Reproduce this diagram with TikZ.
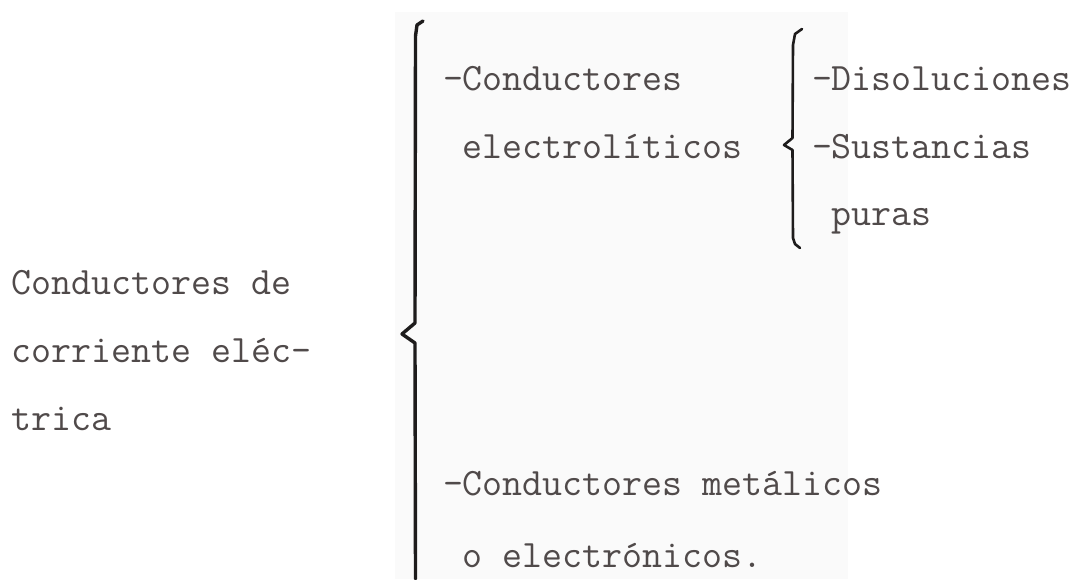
\documentclass[tikz,border=0pt]{standalone}
\usepackage{fontspec}
\definecolor{ink}{RGB}{80,74,74}
\definecolor{pen}{RGB}{30,28,28}
\definecolor{paper}{RGB}{250,250,250}
\begin{document}
\begin{tikzpicture}[x=1pt,y=-1pt,
  lbl/.style={anchor=base west,inner sep=0pt,outer sep=0pt,text=ink,font=\ttfamily\fontsize{38.8}{38.8}\selectfont},
  brace/.style={draw=pen,line width=3.4pt,line cap=round,line join=round}]
\useasboundingbox (0,0) rectangle (1080,579);
\fill[white] (0,0) rectangle (1080,579);
\fill[paper] (395,12) rectangle (848,579);
% left label
\node[lbl] (l1) at (12,294) {Conductores de};
\node[lbl] (l2) at (12,362) {corriente eléc-};
\node[lbl] (l3) at (12,430) {trica};
% middle
\node[lbl] (m1) at (443,90) {-Conductores};
\node[lbl] (m2) at (443,158) {\ electrolíticos};
\node[lbl] (m3) at (443,495) {-Conductores metálicos};
\node[lbl] (m4) at (443,567) {\ o electrónicos.};
% right
\node[lbl] (r1) at (812,90) {-Disoluciones};
\node[lbl] (r2) at (812,158) {-Sustancias};
\node[lbl] (r3) at (812,225) {\ puras};
% big bracket
\draw[brace] (423,21) -- (417,25) -- (415.5,36) -- (415,323) -- (402,334) -- (415,343) -- (415.5,579);
% small bracket
\draw[brace,line width=2.6pt] (802,29) -- (795,34) -- (793,45) -- (792.5,138) -- (784,145) -- (792.5,150) -- (793,238) -- (795,244) -- (800,248);
\end{tikzpicture}
\end{document}
